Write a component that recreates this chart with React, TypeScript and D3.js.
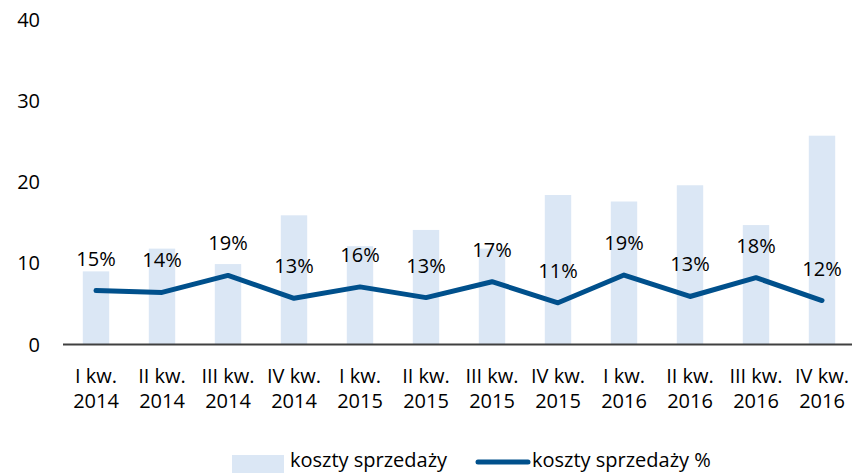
import { useEffect, useRef } from "react";
import * as d3 from "d3";

const quarters = ["I kw.", "II kw.", "III kw.", "IV kw.", "I kw.", "II kw.", "III kw.", "IV kw.", "I kw.", "II kw.", "III kw.", "IV kw."];
const years = ["2014", "2014", "2014", "2014", "2015", "2015", "2015", "2015", "2016", "2016", "2016", "2016"];
const koszty = [9.0, 11.8, 9.9, 15.9, 12.1, 14.1, 11.8, 18.4, 17.6, 19.6, 14.7, 25.7];
const kosztyPct = [14.6, 14.1, 18.7, 12.5, 15.6, 12.7, 17.0, 11.3, 18.8, 13.0, 18.1, 11.9];
const yTicks = [0, 10, 20, 30, 40];

const W = 852, H = 473;
const FONT = "'Open Sans', sans-serif";
const FS = 20;
const BAR = "#dbe7f5";
const LINE = "#00508c";

function App() {
  const ref = useRef<SVGSVGElement>(null);

  useEffect(() => {
    const svg = d3.select(ref.current);
    svg.selectAll("*").remove();

    const keys = quarters.map((q, i) => q + " " + years[i] + "#" + i);
    const x = d3.scaleBand().domain(keys).range([63, 855]).paddingInner(0.6).paddingOuter(0.3);
    const y = d3.scaleLinear().domain([0, 40]).range([344.5, 19.5]);
    // line sits on a hidden secondary axis
    const y2 = d3.scaleLinear().domain([0, 88]).range([344.5, 19.5]);
    const cx = (i: number) => (x(keys[i]) as number) + x.bandwidth() / 2;

    // bars
    svg.append("g")
      .selectAll("rect")
      .data(koszty)
      .join("rect")
      .attr("x", (d, i) => x(keys[i]) as number)
      .attr("y", d => y(d))
      .attr("width", x.bandwidth())
      .attr("height", d => y(0) - y(d))
      .attr("fill", BAR);

    // y axis labels
    svg.append("g")
      .selectAll("text")
      .data(yTicks)
      .join("text")
      .attr("x", 40)
      .attr("y", d => y(d) + 7)
      .attr("text-anchor", "end")
      .attr("font-family", FONT)
      .attr("font-size", FS)
      .attr("fill", "#000")
      .text(d => d);

    // baseline
    svg.append("line")
      .attr("x1", 63).attr("x2", W)
      .attr("y1", y(0)).attr("y2", y(0))
      .attr("stroke", "#404040")
      .attr("stroke-width", 2);

    // x labels
    const xl = svg.append("g")
      .selectAll("text")
      .data(keys)
      .join("text")
      .attr("text-anchor", "middle")
      .attr("font-family", FONT)
      .attr("font-size", FS)
      .attr("fill", "#000");
    xl.append("tspan")
      .attr("x", (d, i) => cx(i))
      .attr("y", 382.5)
      .text((d, i) => quarters[i]);
    xl.append("tspan")
      .attr("x", (d, i) => cx(i))
      .attr("y", 407.5)
      .text((d, i) => years[i]);

    // line
    svg.append("path")
      .datum(kosztyPct)
      .attr("fill", "none")
      .attr("stroke", LINE)
      .attr("stroke-width", 5)
      .attr("stroke-linecap", "round")
      .attr("stroke-linejoin", "round")
      .attr("d", d3.line<number>()
        .x((d, i) => cx(i))
        .y(d => y2(d)));

    // labels
    svg.append("g")
      .selectAll("text")
      .data(kosztyPct)
      .join("text")
      .attr("x", (d, i) => cx(i))
      .attr("y", d => y2(d) - 25)
      .attr("text-anchor", "middle")
      .attr("font-family", FONT)
      .attr("font-size", FS)
      .attr("fill", "#000")
      .text(d => Math.round(d) + "%");

    // legend
    const lg = svg.append("g");
    lg.append("rect")
      .attr("x", 232).attr("y", 455)
      .attr("width", 52).attr("height", 20)
      .attr("fill", BAR);
    lg.append("text")
      .attr("x", 290).attr("y", 467)
      .attr("font-family", FONT)
      .attr("font-size", FS)
      .text("koszty sprzedaży");
    lg.append("line")
      .attr("x1", 478).attr("x2", 528)
      .attr("y1", 462).attr("y2", 462)
      .attr("stroke", LINE)
      .attr("stroke-width", 5)
      .attr("stroke-linecap", "round");
    lg.append("text")
      .attr("x", 532).attr("y", 467)
      .attr("font-family", FONT)
      .attr("font-size", FS)
      .text("koszty sprzedaży %");
  }, []);

  return (
    <svg ref={ref} width={W} height={H} style={{ display: "block", position: "absolute", left: 0, top: 0 }} />
  );
}

export default App;
